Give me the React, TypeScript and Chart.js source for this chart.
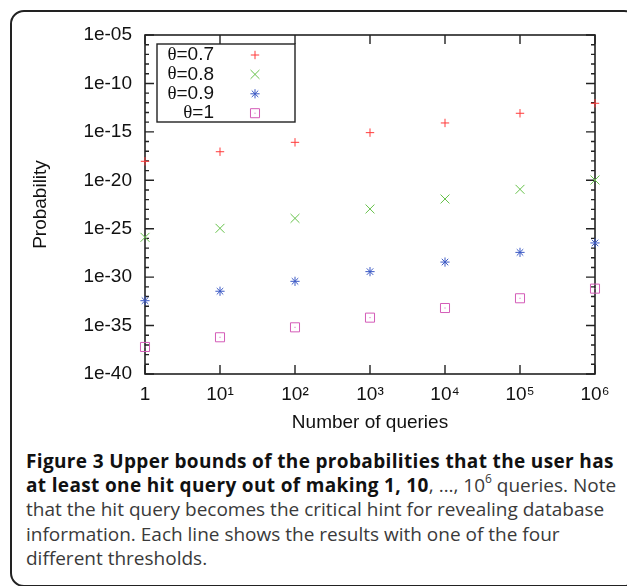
import React, { useEffect, useRef } from 'react';
import { Chart, registerables } from 'chart.js';

Chart.register(...registerables);

const queryCounts = [1, 10, 100, 1000, 1e4, 1e5, 1e6];
const xTickLabels = ['1', '10¹', '10²', '10³', '10⁴', '10⁵', '10⁶'];
const yDecades = [-40, -39, -38, -37, -36, -35, -34, -33, -32, -31, -30, -29, -28, -27, -26, -25, -24, -23, -22, -21, -20, -19, -18, -17, -16, -15, -14, -13, -12, -11, -10, -9, -8, -7, -6, -5];
const yTickLabels = ['1e-40', '1e-35', '1e-30', '1e-25', '1e-20', '1e-15', '1e-10', '1e-05'];

const seriesLabels = ['0.7', '0.8', '0.9', '1'];
const theta07 = [9.1e-19, 8.9e-18, 8.3e-17, 8.3e-16, 8.3e-15, 8.3e-14, 8.9e-13];
const theta08 = [1.29e-26, 1.1e-25, 1.17e-24, 1.1e-23, 1.17e-22, 1.17e-21, 1.07e-20];
const theta09 = [3.7e-33, 3.5e-32, 3.7e-31, 3.7e-30, 3.6e-29, 3.6e-28, 3.4e-27];
const theta10 = [6.2e-38, 6.2e-37, 6.6e-36, 6.6e-35, 6.5e-34, 6.6e-33, 6.5e-32];

const seriesValues = [theta07, theta08, theta09, theta10];
const seriesColors = ['#ff3a3a', '#66c24a', '#3a58c4', '#d45cb8'];
const seriesStyles = ['cross', 'crossRot', 'star', 'rect'];
const seriesRadius = [4.2, 6.3, 4.6, 6.4];

const AXIS_FONT = '"Liberation Sans", Arial, sans-serif';

function drawMarker(ctx: CanvasRenderingContext2D, style: string, x: number, y: number, r: number, color: string) {
  ctx.save();
  ctx.strokeStyle = color;
  ctx.lineWidth = 1;
  ctx.beginPath();
  const d = r * Math.SQRT1_2;
  if (style === 'cross' || style === 'star') {
    ctx.moveTo(x - r, y); ctx.lineTo(x + r, y);
    ctx.moveTo(x, y - r); ctx.lineTo(x, y + r);
  }
  if (style === 'crossRot' || style === 'star') {
    ctx.moveTo(x - d, y - d); ctx.lineTo(x + d, y + d);
    ctx.moveTo(x - d, y + d); ctx.lineTo(x + d, y - d);
  }
  if (style === 'rect') {
    ctx.rect(x - d, y - d, 2 * d, 2 * d);
  }
  ctx.stroke();
  if (style === 'rect') {
    ctx.fillStyle = color;
    ctx.fillRect(x - 0.5, y - 0.5, 1, 1);
  }
  ctx.restore();
}

const framePlugin = {
  id: 'gnuFrame',
  beforeDatasetsDraw(chart: any) {
    const { ctx, chartArea: a, scales } = chart;
    ctx.save();
    ctx.strokeStyle = '#222';
    ctx.lineWidth = 1.4;
    ctx.beginPath();
    scales.y.ticks.forEach((t: any) => {
      const p = scales.y.getPixelForValue(t.value);
      const e = Math.round(Math.log10(t.value));
      const len = e % 5 === 0 ? 9 : 4;
      ctx.moveTo(a.left, p); ctx.lineTo(a.left + len, p);
      ctx.moveTo(a.right, p); ctx.lineTo(a.right - len, p);
    });
    scales.x.ticks.forEach((t: any) => {
      const p = scales.x.getPixelForValue(t.value);
      ctx.moveTo(p, a.bottom); ctx.lineTo(p, a.bottom - 9);
      ctx.moveTo(p, a.top); ctx.lineTo(p, a.top + 9);
    });
    ctx.stroke();
    ctx.lineWidth = 1.6;
    ctx.strokeRect(a.left, a.top, a.right - a.left, a.bottom - a.top);
    ctx.restore();
  },
  afterDatasetsDraw(chart: any) {
    const { ctx, chartArea: a } = chart;
    chart.data.datasets.forEach((ds: any, i: number) => {
      if (seriesStyles[i] !== 'rect') return;
      const meta = chart.getDatasetMeta(i);
      ctx.save();
      ctx.fillStyle = seriesColors[i];
      meta.data.forEach((pt: any) => ctx.fillRect(pt.x - 0.5, pt.y - 0.5, 1, 1));
      ctx.restore();
    });
    const bx = a.left + 12, by = a.top + 9, bw = 138, bh = 78;
    ctx.save();
    ctx.fillStyle = '#fff';
    ctx.fillRect(bx, by, bw, bh);
    ctx.strokeStyle = '#222';
    ctx.lineWidth = 1.4;
    ctx.strokeRect(bx, by, bw, bh);
    const textRight = bx + 57;
    const markX = bx + 98;
    chart.data.datasets.forEach((ds: any, i: number) => {
      const cy = by + 11 + i * 19.4;
      ctx.fillStyle = '#111';
      ctx.textBaseline = 'middle';
      ctx.textAlign = 'right';
      ctx.font = '19px ' + AXIS_FONT;
      const rest = '=' + seriesLabels[i];
      ctx.fillText(rest, textRight, cy);
      const w = ctx.measureText(rest).width;
      ctx.font = '19px "Liberation Serif", "Times New Roman", serif';
      ctx.fillText('θ', textRight - w, cy);
      drawMarker(ctx, seriesStyles[i], markX, cy, seriesRadius[i], seriesColors[i]);
    });
    ctx.restore();
  },
};

export default function App() {
  const canvasRef = useRef<HTMLCanvasElement | null>(null);

  useEffect(() => {
    const canvas = canvasRef.current;
    if (!canvas) return;
    const datasets = seriesValues.map((vals, i) => ({
      label: 'θ=' + seriesLabels[i],
      data: vals.map((v, j) => ({ x: queryCounts[j], y: v })),
      pointStyle: seriesStyles[i] as any,
      pointRadius: seriesRadius[i],
      pointHoverRadius: seriesRadius[i],
      borderColor: seriesColors[i],
      backgroundColor: 'rgba(0,0,0,0)',
      pointBorderWidth: 1,
      showLine: false,
      clip: false as any,
    }));
    const chart = new Chart(canvas, {
      type: 'scatter',
      data: { datasets },
      plugins: [framePlugin],
      options: {
        responsive: false,
        animation: false,
        devicePixelRatio: 1,
        layout: { padding: { left: 0, right: 32, top: 35, bottom: 0 } },
        plugins: { legend: { display: false }, tooltip: { enabled: false } },
        scales: {
          x: {
            type: 'logarithmic',
            min: 1,
            max: 1e6,
            afterFit: (s: any) => { s.height = 440 - 374; },
            afterBuildTicks: (s: any) => { s.ticks = queryCounts.map((v) => ({ value: v })); },
            grid: { display: false, drawTicks: false },
            border: { display: false },
            ticks: {
              autoSkip: false,
              maxRotation: 0,
              padding: 9,
              color: '#111',
              font: { family: AXIS_FONT, size: 19 },
              callback: (v: any) => {
                const idx = queryCounts.findIndex((q) => Math.abs(Math.log10(q) - Math.log10(Number(v))) < 1e-6);
                return idx >= 0 ? xTickLabels[idx] : '';
              },
            },
            title: {
              display: true,
              text: 'Number of queries',
              color: '#111',
              font: { family: AXIS_FONT, size: 19 },
              padding: { top: 0, bottom: 6 },
            },
          },
          y: {
            type: 'logarithmic',
            min: 1e-40,
            max: 1e-5,
            afterFit: (s: any) => { s.width = 145; },
            afterBuildTicks: (s: any) => { s.ticks = yDecades.map((e) => ({ value: Math.pow(10, e) })); },
            grid: { display: false, drawTicks: false },
            border: { display: false },
            ticks: {
              autoSkip: false,
              padding: 13,
              color: '#111',
              font: { family: AXIS_FONT, size: 19 },
              callback: (v: any) => {
                const e = Math.round(Math.log10(Number(v)));
                if (e % 5 !== 0) return '';
                const idx = (e + 40) / 5;
                return yTickLabels[idx] ?? '';
              },
            },
            title: {
              display: true,
              text: 'Probability',
              color: '#111',
              font: { family: AXIS_FONT, size: 19 },
              padding: { top: 29, bottom: 0 },
            },
          },
        },
      },
    });
    return () => chart.destroy();
  }, []);

  const bold: React.CSSProperties = { fontWeight: 700, color: '#111', letterSpacing: '0.35px' };

  return (
    <div style={{ position: 'fixed', left: 0, top: 0, width: 627, height: 586, overflow: 'hidden', background: '#fff' }}>
      <div
        style={{
          position: 'absolute', left: 10, top: 10, width: 628, height: 577,
          border: '2px solid #222', borderRadius: 14, boxSizing: 'border-box',
        }}
      />
      <canvas ref={canvasRef} width={627} height={440} style={{ position: 'absolute', left: 0, top: 0 }} />
      <div
        style={{
          position: 'absolute', left: 26, top: 449, fontFamily: '"Open Sans", sans-serif',
          fontSize: 19, lineHeight: '24.2px', color: '#3a3a3a', whiteSpace: 'nowrap',
        }}
      >
        <span style={bold}>Figure 3 Upper bounds of the probabilities that the user has</span>
        <br />
        <span style={bold}>at least one hit query out of making 1, 10</span>, …, 10<sup style={{ fontSize: 12, verticalAlign: 'top', lineHeight: '12px' }}>6</sup> queries. Note
        <br />
        that the hit query becomes the critical hint for revealing database
        <br />
        information. Each line shows the results with one of the four
        <br />
        different thresholds.
      </div>
    </div>
  );
}
